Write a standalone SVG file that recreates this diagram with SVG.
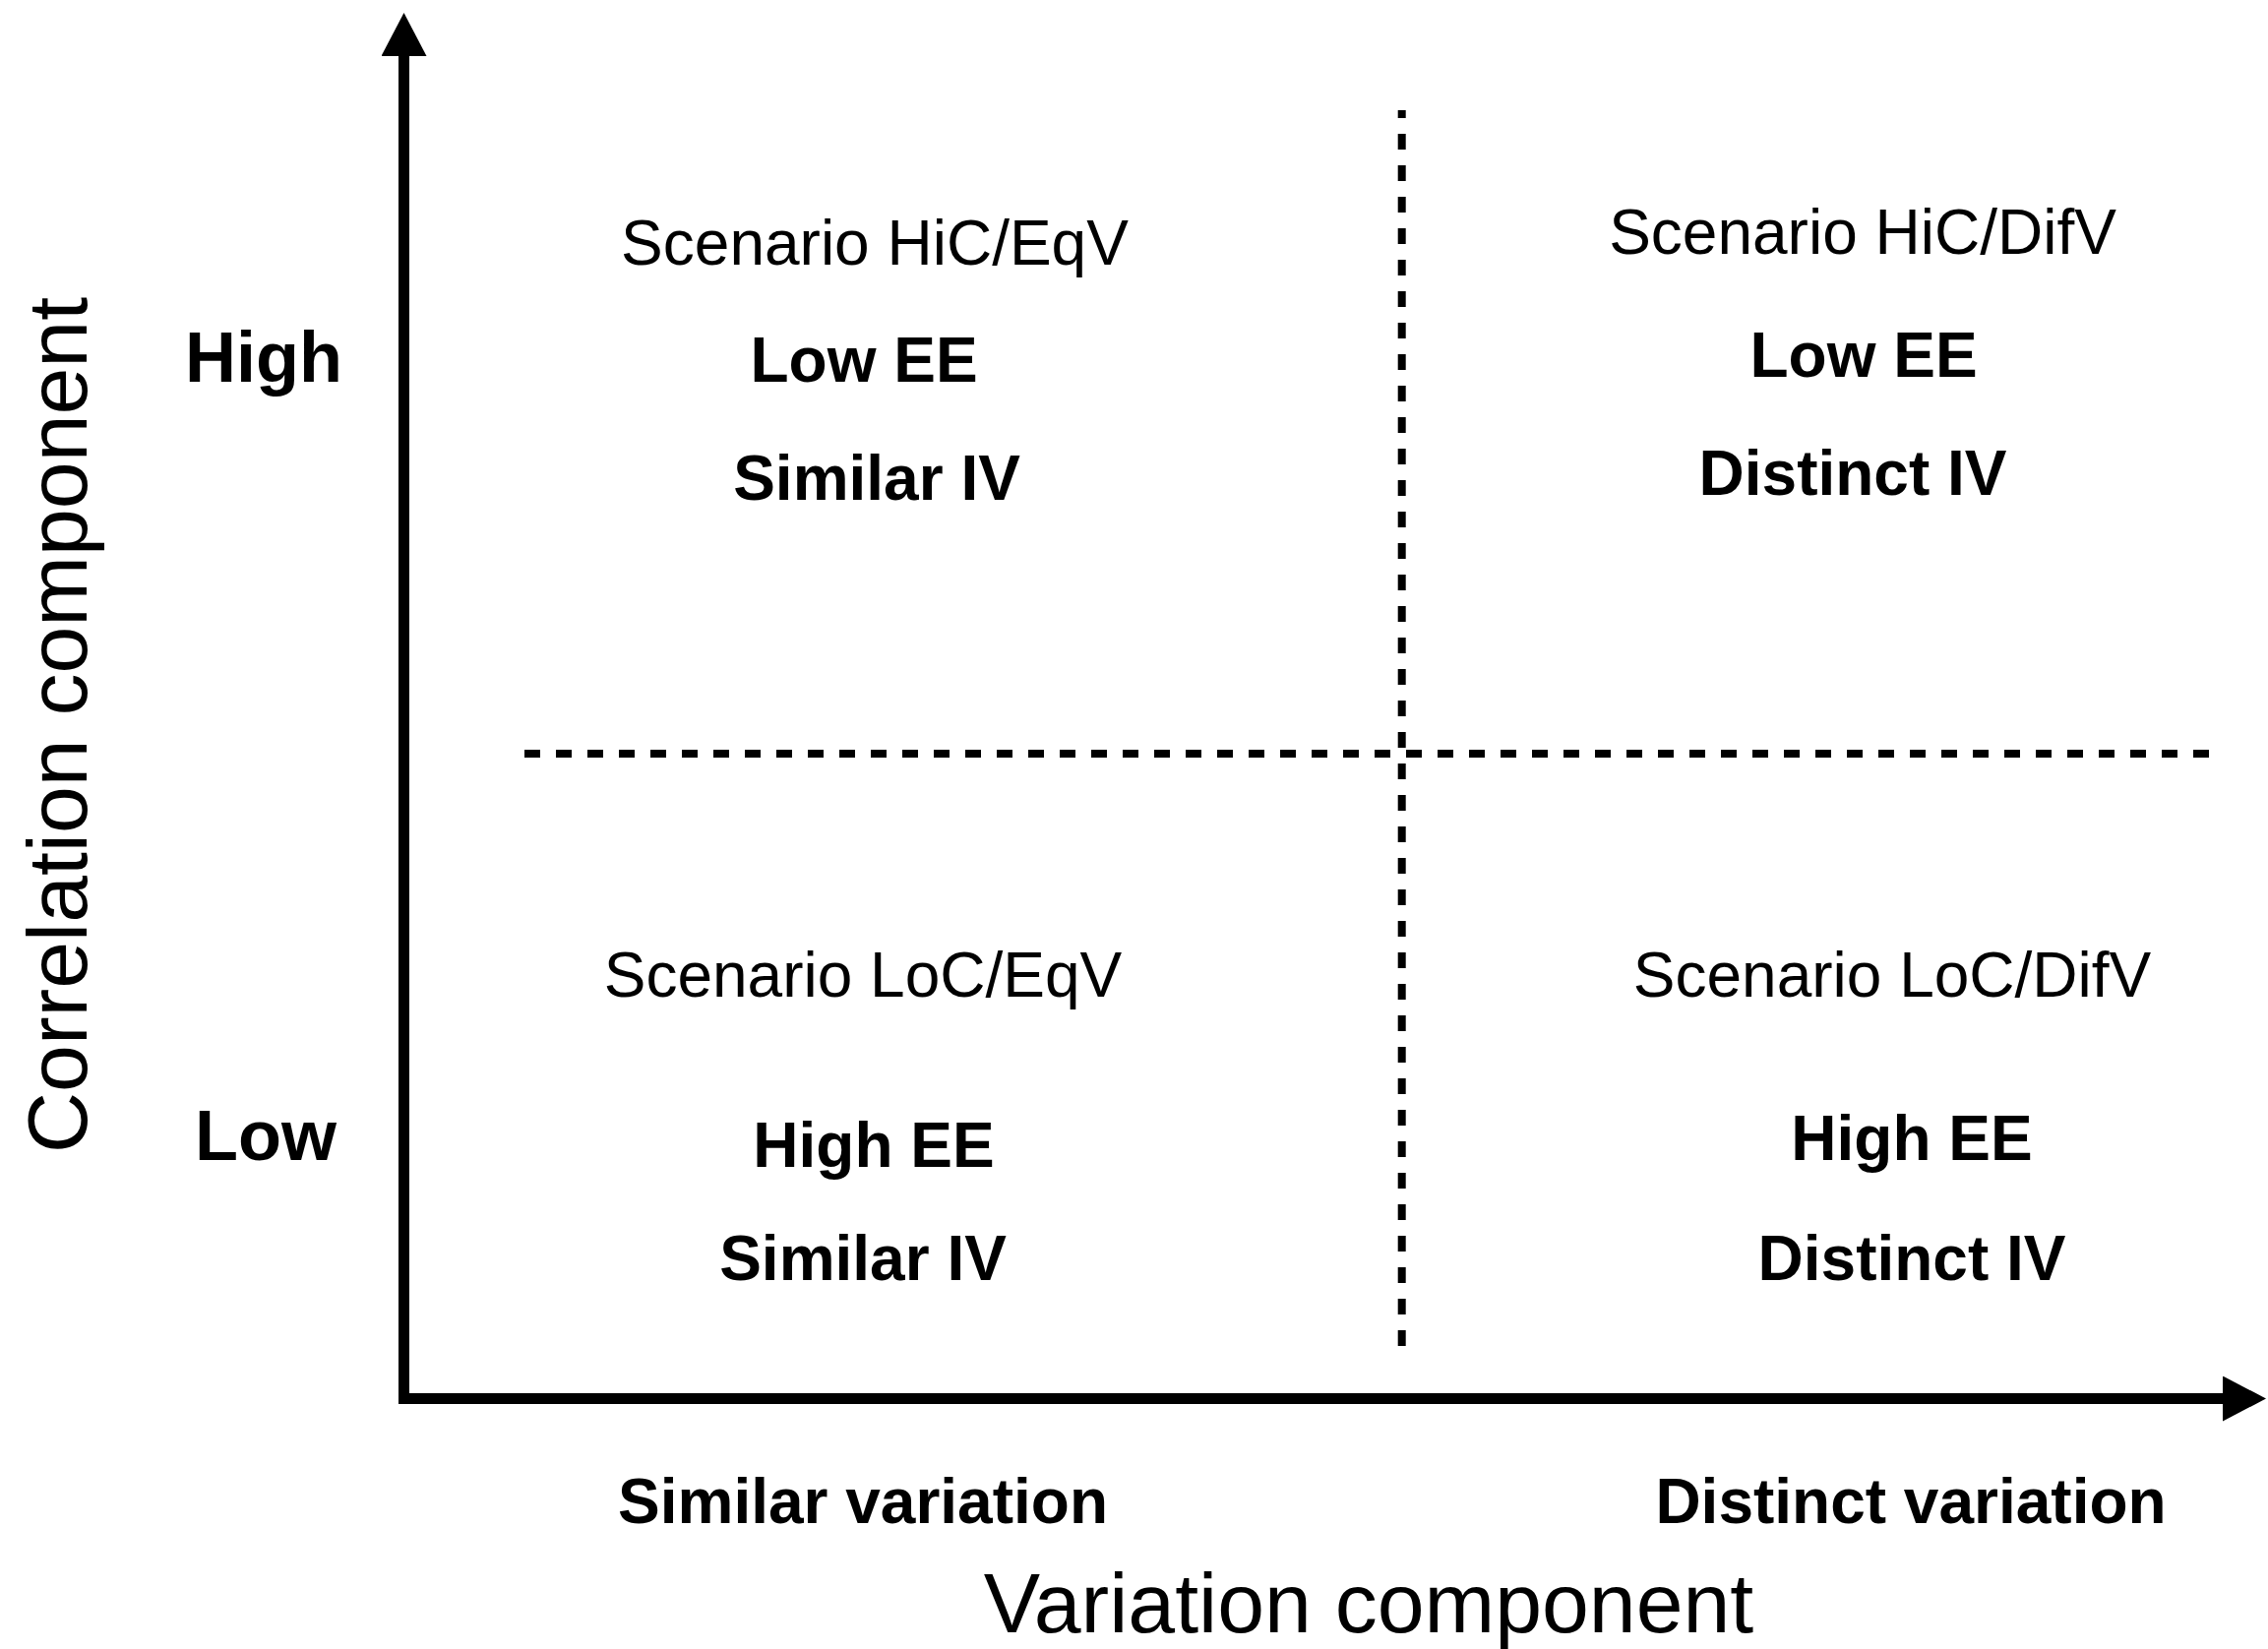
<svg xmlns="http://www.w3.org/2000/svg" width="2305" height="1676" viewBox="0 0 2305 1676">
  <style>
    text { font-family: "Liberation Sans", Arial, Helvetica, sans-serif; fill: #000; text-anchor: middle; }
    .sc { font-size: 64px; font-weight: normal; }
    .b { font-size: 64px; font-weight: bold; }
    .lv { font-size: 72px; font-weight: bold; }
    .ax { font-size: 86px; font-weight: normal; }
    .axis { stroke: #000; stroke-width: 11; fill: none; }
    .dash { stroke: #000; stroke-width: 8; fill: none; stroke-dasharray: 16 16; }
  </style>
  <defs>
    <marker id="arrow" markerUnits="userSpaceOnUse" markerWidth="44" markerHeight="46" refX="0" refY="23" orient="auto">
      <path d="M0,0 L44,23 L0,46 z" fill="#000"/>
    </marker>
  </defs>
  <rect width="2305" height="1676" fill="#fff"/>
  <g id="connectors">
    <path class="axis" d="M410.5,1427 L410.5,57" marker-end="url(#arrow)"/>
    <path class="axis" d="M405,1421.5 L2259,1421.5" marker-end="url(#arrow)"/>
    <path class="dash" d="M533,766 L2246,766"/>
    <path class="dash" d="M1424.7,112 L1424.7,1368" stroke-dashoffset="8"/>
  </g>
  <g id="q-hic-eqv">
    <text class="sc" x="889" y="269">Scenario HiC/EqV</text>
    <text class="b" x="878" y="388">Low EE</text>
    <text class="b" x="891" y="508">Similar IV</text>
  </g>
  <g id="q-hic-difv">
    <text class="sc" x="1893" y="258">Scenario HiC/DifV</text>
    <text class="b" x="1894" y="383">Low EE</text>
    <text class="b" x="1883" y="503">Distinct IV</text>
  </g>
  <g id="q-loc-eqv">
    <text class="sc" x="877" y="1013">Scenario LoC/EqV</text>
    <text class="b" x="888" y="1186">High EE</text>
    <text class="b" x="877" y="1301">Similar IV</text>
  </g>
  <g id="q-loc-difv">
    <text class="sc" x="1923" y="1013">Scenario LoC/DifV</text>
    <text class="b" x="1943" y="1179">High EE</text>
    <text class="b" x="1943" y="1301">Distinct IV</text>
  </g>
  <g id="y-labels">
    <text class="lv" x="268" y="388">High</text>
    <text class="lv" x="270" y="1179">Low</text>
    <text class="ax" transform="translate(88,737) rotate(-90)">Correlation component</text>
  </g>
  <g id="x-labels">
    <text class="b" x="877" y="1548">Similar variation</text>
    <text class="b" x="1942" y="1548">Distinct variation</text>
    <text class="ax" x="1391" y="1659">Variation component</text>
  </g>
</svg>
